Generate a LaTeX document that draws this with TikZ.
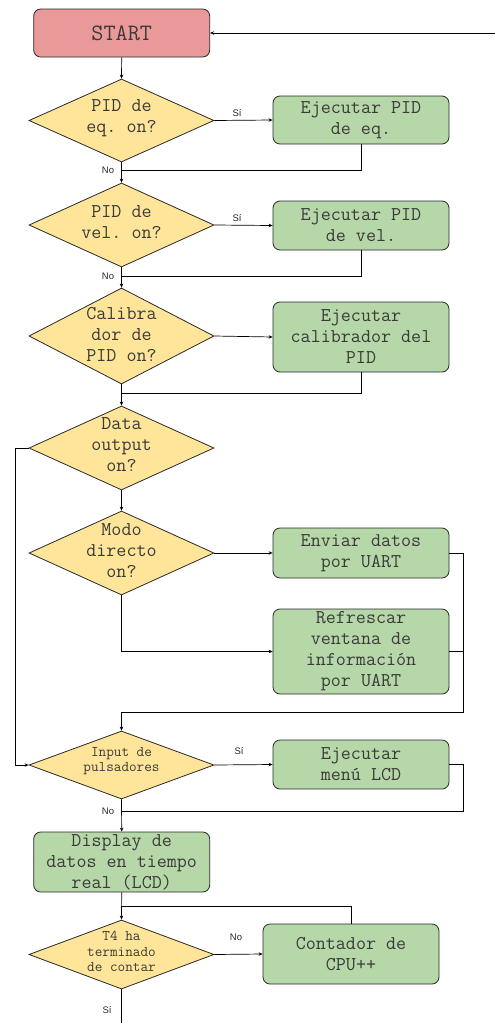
\documentclass[tikz,border=0pt]{standalone}
\usepackage{fontspec}
\newfontfamily\labfont{Liberation Sans}
\newcommand{\boxfont}{\ttfamily}
\usetikzlibrary{shapes.geometric,arrows.meta}
\frenchspacing
\definecolor{pinkc}{HTML}{EA9999}
\definecolor{yelc}{HTML}{FFE599}
\definecolor{grnc}{HTML}{B6D7A8}
\definecolor{txtc}{HTML}{3A3A3A}
\definecolor{edgec}{HTML}{2A2A2A}
\tikzset{
  box/.style={draw=edgec, line width=0.8pt, rounded corners=7pt, fill=grnc,
    minimum width=176pt, align=center, inner sep=0pt, text=txtc,
    font=\boxfont\fontsize{19.5}{21}\selectfont},
  dia/.style={draw=edgec, line width=0.8pt, shape=diamond, fill=yelc,
    minimum width=185pt, inner sep=0pt},
  dtext/.style={align=center, text=txtc, inner sep=0pt,
    font=\boxfont\fontsize{19.5}{21}\selectfont},
  dsmall/.style={align=center, text=txtc, inner sep=0pt,
    font=\boxfont\fontsize{14.8}{15.7}\selectfont},
  con/.style={draw=black, line width=0.7pt},
  arr/.style={con, -{Stealth[length=4pt,width=3.5pt]}},
  lab/.style={font=\labfont\fontsize{9.5}{11}\selectfont, text=black!85, inner sep=0pt}
}
\begin{document}
\begin{tikzpicture}[x=1pt,y=-1pt]
\useasboundingbox (0,0) rectangle (495,1023);
% nodes
\node[box, fill=pinkc, minimum height=48pt, font=\boxfont\fontsize{23.5}{25}\selectfont] (start) at (121.7,33) {START};
\node[dia, minimum height=83pt] (d1) at (121.5,120.5) {};
\node[dtext] (d1t) at (121.5,118) {PID de\\eq. on?};
\node[box, minimum height=48pt] (b1) at (361,120) {Ejecutar PID\\de eq.};
\node[dia, minimum height=84pt] (d2) at (121.5,225) {};
\node[dtext] (d2t) at (121.5,222.5) {PID de\\vel. on?};
\node[box, minimum height=49pt] (b2) at (361,225.5) {Ejecutar PID\\de vel.};
\node[dia, minimum height=96pt] (d3) at (121.5,336) {};
\node[dtext] (d3t) at (121.5,334) {Calibra\\dor de\\PID on?};
\node[box, minimum height=70pt] (b3) at (361,337) {Ejecutar\\calibrador del\\PID};
\node[dia, minimum height=84pt] (d4) at (121.5,448) {};
\node[dtext] (d4t) at (121.5,445) {Data\\output\\on?};
\node[dia, minimum height=84pt] (d5) at (121.5,553) {};
\node[dtext] (d5t) at (121.5,551) {Modo\\directo\\on?};
\node[box, minimum height=50pt] (b4) at (361,553) {Enviar datos\\por UART};
\node[box, minimum height=85pt] (b5) at (361,651.5) {Refrescar\\ventana de\\información\\por UART};
\node[dia, minimum height=68pt] (d6) at (121.5,765) {};
\node[dsmall] (d6t) at (121.5,761) {Input de\\pulsadores};
\node[box, minimum height=49pt] (b6) at (361,764.5) {Ejecutar\\menú LCD};
\node[box, minimum height=60pt] (b7) at (121.7,862) {Display de\\datos en tiempo\\real (LCD)};
\node[dia, minimum height=69pt] (d7) at (121.5,954.5) {};
\node[dsmall] (d7t) at (121.5,951.5) {T4 ha\\terminado\\de contar};
\node[box, minimum height=60pt] (b8) at (351,954) {Contador de\\CPU++};
% labels
\node[lab] (s1) at (237,113) {Sí};
\node[lab] (n1) at (108,170.5) {No};
\node[lab] (s2) at (237,218) {Sí};
\node[lab] (n2) at (108,276) {No};
\node[lab] (s6) at (239,751.5) {Sí};
\node[lab] (n6) at (108,811) {No};
\node[lab] (n7) at (236,937) {No};
\node[lab] (s7) at (107,1010) {Sí};
% coordinates
\coordinate (rin) at (495,33);
\coordinate (j1) at (121.5,170);
\coordinate (j2) at (121.5,276);
\coordinate (j3) at (121.5,393);
\coordinate (l1) at (15,448);
\coordinate (l2) at (15,765);
\coordinate (r1) at (463,553);
\coordinate (r2) at (463,712);
\coordinate (r3) at (121.5,712);
\coordinate (r4) at (463,811);
\coordinate (j6) at (121.5,811);
\coordinate (j7) at (121.5,906);
\coordinate (bot) at (121.5,1023);
% connectors
\draw[arr] (rin) -- (start.east);
\draw[arr] (start.south) -- (d1.north);
\draw[arr] (d1.east) -- (b1.west);
\draw[con] (b1.south) |- (j1);
\draw[arr] (d1.south) -- (d2.north);
\draw[arr] (d2.east) -- (b2.west);
\draw[con] (b2.south) |- (j2);
\draw[arr] (d2.south) -- (d3.north);
\draw[arr] (d3.east) -- (b3.west);
\draw[con] (b3.south) |- (j3);
\draw[arr] (d3.south) -- (d4.north);
\draw[arr] (d4.west) -- (l1) -- (l2) -- (d6.west);
\draw[arr] (d4.south) -- (d5.north);
\draw[arr] (d5.east) -- (b4.west);
\draw[arr] (d5.south) |- (b5.west);
\draw[arr] (b4.east) -- (r1) -- (r2) -- (r3) -- (d6.north);
\draw[con] (b5.east) -- (b5.east -| r1);
\draw[arr] (d6.east) -- (b6.west);
\draw[con] (b6.east) -| (r4) -- (j6);
\draw[arr] (d6.south) -- (b7.north);
\draw[arr] (b7.south) -- (d7.north);
\draw[con] (b8.north) |- (j7);
\draw[arr] (d7.east) -- (b8.west);
\draw[con] (d7.south) -- (bot);
\end{tikzpicture}
\end{document}
